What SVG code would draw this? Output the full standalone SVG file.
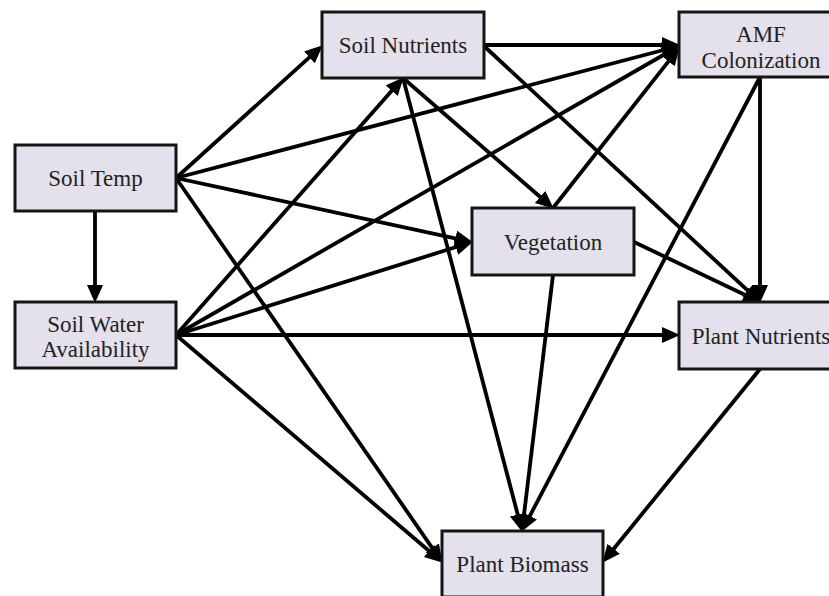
<svg xmlns="http://www.w3.org/2000/svg" width="829" height="596" viewBox="0 0 829 596">
<defs>
<style>
.box{fill:#e4e0ec;stroke:#151515;stroke-width:3}
.lbl{font-family:"Liberation Serif","Times New Roman",serif;font-size:23px;fill:#222;text-anchor:middle}
.edge{stroke:#000;stroke-width:3.8;fill:none;marker-end:url(#ah)}
</style>
<marker id="ah" markerUnits="userSpaceOnUse" markerWidth="20" markerHeight="18" refX="7" refY="8" orient="auto">
<path d="M0,0 L18,8 L0,16 z" fill="#000"/>
</marker>
</defs>
<rect width="829" height="596" fill="#fff"/>
<g id="connectors">
<line class="edge" x1="176" y1="178" x2="314.6" y2="52.7"/>
<line class="edge" x1="176" y1="178" x2="669.3" y2="48.5"/>
<line class="edge" x1="176" y1="178" x2="462.2" y2="239.9"/>
<line class="edge" x1="176" y1="178" x2="436.3" y2="553.8"/>
<line class="edge" x1="95" y1="211" x2="95" y2="292"/>
<line class="edge" x1="176" y1="335" x2="396.4" y2="85.5"/>
<line class="edge" x1="176" y1="335" x2="670.3" y2="51"/>
<line class="edge" x1="176" y1="335" x2="462.5" y2="245"/>
<line class="edge" x1="176" y1="335" x2="669" y2="335"/>
<line class="edge" x1="176" y1="335" x2="434.4" y2="555.5"/>
<line class="edge" x1="484" y1="45" x2="669" y2="45"/>
<line class="edge" x1="403" y1="78" x2="545.4" y2="201.5"/>
<line class="edge" x1="484" y1="46" x2="752.7" y2="295.2"/>
<line class="edge" x1="403" y1="78" x2="519.5" y2="521.3"/>
<line class="edge" x1="553" y1="208" x2="672.8" y2="55.9"/>
<line class="edge" x1="634" y1="242" x2="751" y2="297.7"/>
<line class="edge" x1="553" y1="275" x2="523.2" y2="521.1"/>
<line class="edge" x1="760" y1="77" x2="760" y2="292"/>
<line class="edge" x1="760" y1="77" x2="526.6" y2="522.1"/>
<line class="edge" x1="760" y1="369" x2="609.3" y2="554.2"/>
</g>
<g id="soil-temp">
<rect class="box" x="15" y="145" width="161" height="66"/>
<text class="lbl" x="95.5" y="186">Soil Temp</text>
</g>
<g id="soil-water">
<rect class="box" x="15" y="302" width="161" height="66"/>
<text class="lbl" x="95.5" y="332">Soil Water</text>
<text class="lbl" x="95.5" y="357">Availability</text>
</g>
<g id="soil-nutrients">
<rect class="box" x="322" y="12" width="162" height="66"/>
<text class="lbl" x="403" y="53">Soil Nutrients</text>
</g>
<g id="amf">
<rect class="box" x="679" y="12" width="162" height="65"/>
<text class="lbl" x="761" y="42">AMF</text>
<text class="lbl" x="761" y="68">Colonization</text>
</g>
<g id="vegetation">
<rect class="box" x="472" y="208" width="162" height="67"/>
<text class="lbl" x="553" y="250">Vegetation</text>
</g>
<g id="plant-nutrients">
<rect class="box" x="679" y="302" width="162" height="67"/>
<text class="lbl" x="761" y="344">Plant Nutrients</text>
</g>
<g id="plant-biomass">
<rect class="box" x="442" y="531" width="161" height="66"/>
<text class="lbl" x="522.5" y="572">Plant Biomass</text>
</g>
</svg>
